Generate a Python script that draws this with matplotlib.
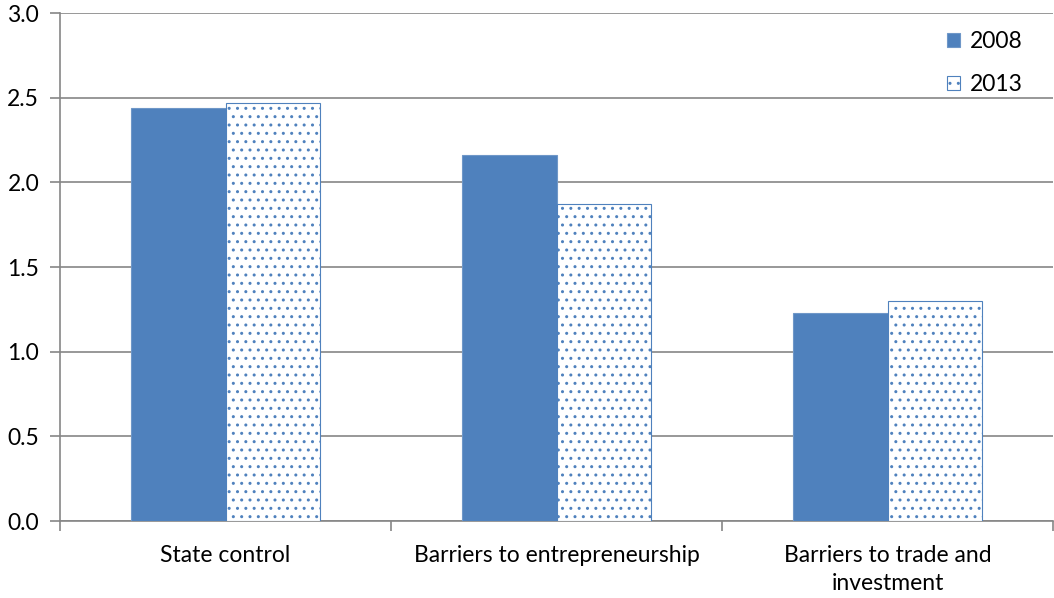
import numpy as np
import matplotlib.pyplot as plt
import matplotlib as mpl

categories = ["State control", "Barriers to entrepreneurship", "Barriers to trade and\ninvestment"]
vals_2008 = [2.44, 2.16, 1.23]
vals_2013 = [2.47, 1.87, 1.30]

blue = "#4F81BD"
grey = "#868686"
mpl.rcParams['hatch.color'] = "#7fa3d3"
mpl.rcParams['hatch.linewidth'] = 1.0
plt.rcParams['font.family'] = ['Lato', 'DejaVu Sans']
fs = 16.5

fig = plt.figure(figsize=(10.54, 5.98), dpi=100)
ax = fig.add_axes([60/1054, 1-521/598, 993/1054, 508/598])

x = np.arange(len(categories))
w = 0.287
ax.bar(x - w/2, vals_2008, w, color=blue, edgecolor="#6f97c8", linewidth=0.8, label="2008", zorder=3)
ax.bar(x + w/2, vals_2013, w, color="white", edgecolor=blue, hatch="..", linewidth=0.8, label="2013", zorder=3)

ax.set_xlim(-0.5, 2.5)
ax.set_ylim(0, 3.0)
ax.set_yticks(np.arange(0, 3.01, 0.5))
ax.set_yticklabels(["%.1f" % v for v in np.arange(0, 3.01, 0.5)], fontsize=fs)
ax.yaxis.grid(True, color=grey, linewidth=1.2, zorder=0)
ax.set_axisbelow(True)

ax.set_xticks(x)
ax.set_xticklabels(categories, fontsize=fs, linespacing=1.45)
ax.set_xticks([-0.5, 0.5, 1.5, 2.5], minor=True)
ax.tick_params(axis='x', which='major', length=0, pad=17)
ax.tick_params(axis='x', which='minor', length=7, color=grey, width=1.2)
ax.tick_params(axis='y', length=7, color=grey, width=1.2, pad=8)

for s in ["top", "right"]:
    ax.spines[s].set_visible(False)
for s in ["left", "bottom"]:
    ax.spines[s].set_color(grey)
    ax.spines[s].set_linewidth(1.2)

leg = ax.legend(loc="upper right", bbox_to_anchor=(0.99, 1.005), frameon=False, fontsize=fs,
                handlelength=0.6, handleheight=0.6, handletextpad=0.4, labelspacing=0.95)

fig.savefig("out.png", dpi=100)
